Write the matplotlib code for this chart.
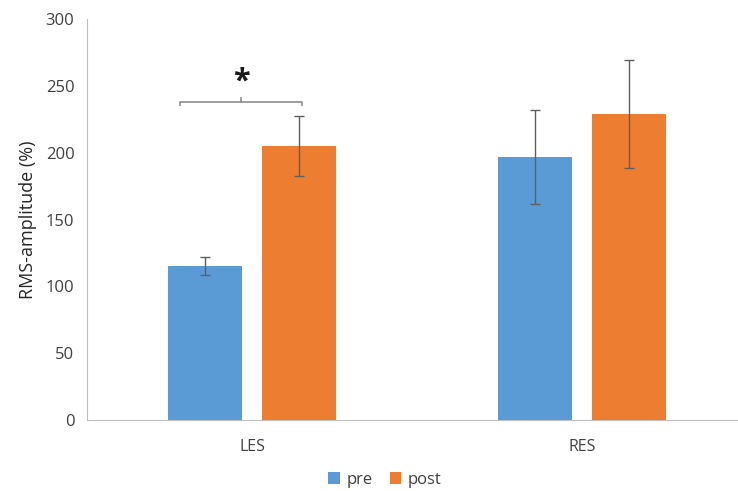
import numpy as np
import matplotlib.pyplot as plt

plt.rcParams['font.family'] = ['Open Sans', 'DejaVu Sans']

categories = ['LES', 'RES']
pre = [115.2, 196.9]
pre_err = [7.0, 35.0]
post = [205.2, 228.9]
post_err = [22.6, 40.3]

blue = '#5B9BD5'
orange = '#ED7D31'

fig = plt.figure(figsize=(7.38, 4.91), dpi=100)
ax = fig.add_axes([87/738, 71/491, 660/738, 401/491])

x = np.arange(len(categories))
w = 0.224
off = 0.142
ekw = dict(ecolor='#5F5F5F', elinewidth=1.0, capsize=3.5, capthick=1.0)
ax.bar(x - off, pre, w, color=blue, label='pre', yerr=pre_err, error_kw=ekw)
ax.bar(x + off, post, w, color=orange, label='post', yerr=post_err, error_kw=ekw)

ax.set_xlim(-0.5, 1.5)
ax.set_ylim(0, 300)
ax.set_yticks(np.arange(0, 301, 50))
ax.set_xticks(x)
ax.set_xticklabels(categories)
ax.tick_params(length=0, labelsize=12, colors='#404040', pad=9)
ax.tick_params(axis='x', pad=14, labelsize=11.5)
for s in ['top', 'right']:
    ax.spines[s].set_visible(False)
for s in ['left', 'bottom']:
    ax.spines[s].set_color('#BFBFBF')
ax.set_ylabel('RMS-amplitude (%)', fontsize=13, color='#262626', labelpad=6)

# significance bracket
bx0, bx1, by = -0.218, 0.152, 238
ax.plot([bx0, bx0, bx1, bx1], [by - 2, by, by, by - 2], color='#8C8C8C', lw=1.2)
ax.plot([(bx0 + bx1) / 2] * 2, [by, by + 3], color='#8C8C8C', lw=1.2)
ax.text((bx0 + bx1) / 2, by + 4, '*', ha='center', va='bottom', fontsize=22,
        fontweight='bold', color='#1a1a1a')

fig.legend(loc='center', bbox_to_anchor=(385/738, 1 - 480/491), ncol=2, frameon=False,
           fontsize=12, handlelength=0.7, handleheight=0.7, handletextpad=0.4,
           columnspacing=1.0, labelcolor='#404040')

fig.savefig('out.png', dpi=100)
